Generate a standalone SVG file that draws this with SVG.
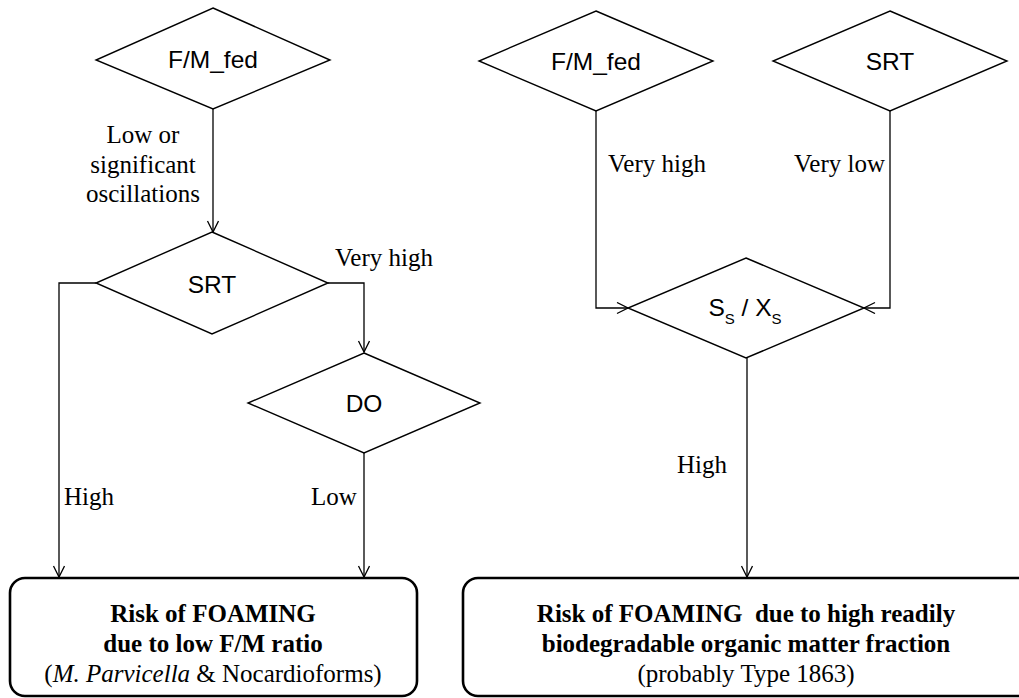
<svg xmlns="http://www.w3.org/2000/svg" width="1019" height="698" viewBox="0 0 1019 698">
<style>
.dia{fill:#fff;stroke:#000;stroke-width:1.4}
.box{fill:#fff;stroke:#000;stroke-width:2.6}
.con{fill:none;stroke:#000;stroke-width:1.3}
.dt{font-family:"Liberation Sans",Arial,sans-serif;font-size:24.5px;fill:#000;text-anchor:middle}
.lb{font-family:"Liberation Serif","Times New Roman",serif;font-size:25px;fill:#000}
.bt{font-family:"Liberation Serif","Times New Roman",serif;font-size:25px;fill:#000;text-anchor:middle}
.b{font-weight:bold}
</style>
<defs>
<marker id="arr" markerUnits="userSpaceOnUse" markerWidth="14" markerHeight="14" refX="12" refY="6" orient="auto">
<path d="M1,0.5 L12,6 L1,11.5" fill="none" stroke="#000" stroke-width="1.3"/>
</marker>
</defs>
<rect width="1019" height="698" fill="#fff"/>
<g id="connectors">
<path class="con" d="M213,109 V232" marker-end="url(#arr)"/>
<path class="con" d="M96,283 H59 V577" marker-end="url(#arr)"/>
<path class="con" d="M328,283 H364 V352" marker-end="url(#arr)"/>
<path class="con" d="M364,453 V577" marker-end="url(#arr)"/>
<path class="con" d="M596,111 V308 H628" marker-end="url(#arr)"/>
<path class="con" d="M890,111 V308 H864" marker-end="url(#arr)"/>
<path class="con" d="M747,358 V577" marker-end="url(#arr)"/>
<text class="lb" text-anchor="middle" x="143" y="143">Low or</text>
<text class="lb" text-anchor="middle" x="143" y="173">significant</text>
<text class="lb" text-anchor="middle" x="143" y="202">oscillations</text>
<text class="lb" x="335" y="266">Very high</text>
<text class="lb" x="64" y="505">High</text>
<text class="lb" x="311" y="505">Low</text>
<text class="lb" x="608" y="172">Very high</text>
<text class="lb" text-anchor="end" x="885" y="172">Very low</text>
<text class="lb" x="677" y="473">High</text>
</g>
<g id="fm_left">
<polygon class="dia" points="213,8 330,60 213,109 96,60"/>
<text class="dt" x="213" y="68">F/M_fed</text>
</g>
<g id="srt_left">
<polygon class="dia" points="212,232 328,283 212,334 96,283"/>
<text class="dt" x="212" y="293">SRT</text>
</g>
<g id="do">
<polygon class="dia" points="364,353 480,403 364,453 248,403"/>
<text class="dt" x="364" y="412">DO</text>
</g>
<g id="fm_right">
<polygon class="dia" points="596,11 713,61 596,111 479,61"/>
<text class="dt" x="596" y="70">F/M_fed</text>
</g>
<g id="srt_right">
<polygon class="dia" points="890,11 1007,61 890,111 773,61"/>
<text class="dt" x="890" y="70">SRT</text>
</g>
<g id="ssxs">
<polygon class="dia" points="746,258 864,308 746,358 628,308"/>
<text class="dt" x="745" y="316">S<tspan font-size="15" dy="8">S</tspan><tspan dy="-8"> / X</tspan><tspan font-size="15" dy="8">S</tspan></text>
</g>
<g id="result_left">
<rect class="box" x="10" y="578" width="407" height="118" rx="15"/>
<text class="bt b" x="213" y="622">Risk of FOAMING</text>
<text class="bt b" x="213" y="652">due to low F/M ratio</text>
<text class="bt" x="213" y="682">(<tspan font-style="italic">M. Parvicella</tspan> &amp; Nocardioforms)</text>
</g>
<g id="result_right">
<rect class="box" x="463" y="578" width="575" height="118" rx="15"/>
<text class="bt b" x="746" y="622" xml:space="preserve">Risk of FOAMING  due to high readily</text>
<text class="bt b" x="746" y="652">biodegradable organic matter fraction</text>
<text class="bt" x="746" y="682">(probably Type 1863)</text>
</g>
</svg>
